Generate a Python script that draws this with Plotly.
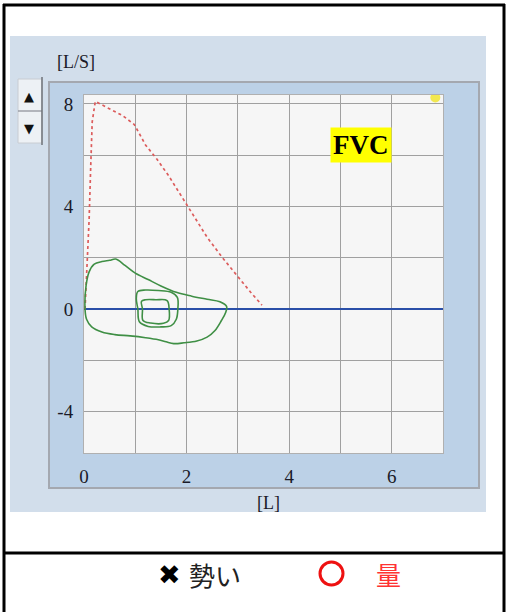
import plotly.graph_objects as go

# ---- data (volume [L], flow [L/S]) ----
fvc_vol = [0.02, 0.06, 0.10, 0.13, 0.16, 0.22, 0.45, 0.75, 0.98, 1.20, 1.42, 1.65, 1.90, 2.15, 2.40, 2.70, 3.00, 3.25, 3.47]
fvc_flow = [0.0, 1.5, 3.5, 5.5, 7.3, 8.1, 7.85, 7.55, 7.2, 6.4, 5.85, 5.2, 4.4, 3.6, 2.8, 2.0, 1.25, 0.65, 0.15]

big_vol = [0.02, 0.04, 0.10, 0.20, 0.35, 0.50, 0.62, 0.80, 1.00, 1.25, 1.50, 1.80, 2.10, 2.40, 2.65, 2.78, 2.76, 2.68,
           2.55, 2.40, 2.20, 1.95, 1.75, 1.60, 1.45, 1.20, 0.90, 0.60, 0.35, 0.15, 0.05, 0.02]
big_flow = [0.0, 0.9, 1.45, 1.75, 1.85, 1.9, 1.95, 1.7, 1.4, 1.15, 0.9, 0.65, 0.5, 0.38, 0.28, 0.1, -0.15, -0.45,
            -0.85, -1.1, -1.25, -1.32, -1.35, -1.28, -1.2, -1.12, -1.05, -1.0, -0.9, -0.7, -0.4, 0.0]

in1_vol = [1.05, 1.02, 1.05, 1.20, 1.45, 1.70, 1.82, 1.83, 1.80, 1.70, 1.50, 1.25, 1.08, 1.05]
in1_flow = [0.0, 0.4, 0.68, 0.74, 0.72, 0.65, 0.45, 0.0, -0.4, -0.65, -0.7, -0.68, -0.5, 0.0]

in2_vol = [1.14, 1.12, 1.20, 1.40, 1.62, 1.66, 1.65, 1.55, 1.30, 1.15, 1.14]
in2_flow = [0.0, 0.3, 0.36, 0.36, 0.33, 0.0, -0.45, -0.56, -0.55, -0.45, 0.0]

marker_vol = [6.85]
marker_flow = [8.25]

x_ticks = [0, 1, 2, 3, 4, 5, 6]
x_ticktext = ["0", "", "2", "", "4", "", "6"]
y_ticks = [-4, -2, 0, 2, 4, 6, 8]
y_ticktext = ["-4", "", "0", "", "4", "", "8"]

# ---- layout geometry (pixels) ----
W_PX, H_PX = 509, 612
L, T, PW, PH = 84, 95, 359, 358


def X(p):
    return (p - L) / PW


def Y(p):
    return (T + PH - p) / PH


fig = go.Figure()
green = "#3f8f45"
fig.add_trace(go.Scatter(x=fvc_vol, y=fvc_flow, mode="lines",
                         line=dict(color="#dc5c5c", width=1.7, dash="3px,3px"), hoverinfo="skip"))
for xs, ys in [(big_vol, big_flow), (in1_vol, in1_flow), (in2_vol, in2_flow)]:
    fig.add_trace(go.Scatter(x=xs, y=ys, mode="lines", line=dict(color=green, width=1.6, shape="spline"),
                             hoverinfo="skip"))
fig.add_trace(go.Scatter(x=marker_vol, y=marker_flow, mode="markers",
                         marker=dict(color="#f2e850", size=10, line=dict(width=0)), hoverinfo="skip"))

shapes = []
# photo background
shapes.append(dict(type="rect", xref="paper", yref="paper", x0=X(10), x1=X(486), y0=Y(512), y1=Y(36),
                   fillcolor="#d2deeb", line=dict(width=0), layer="below"))
# inner frame
shapes.append(dict(type="rect", xref="paper", yref="paper", x0=X(49), x1=X(479), y0=Y(488), y1=Y(82),
                   fillcolor="#bcd1e7", line=dict(color="#a4a8b0", width=2), layer="below"))
# plot area bg
shapes.append(dict(type="rect", xref="paper", yref="paper", x0=0, x1=1, y0=0, y1=1,
                   fillcolor="#f6f6f6", line=dict(width=0), layer="below"))
# buttons
shapes.append(dict(type="rect", xref="paper", yref="paper", x0=X(18), x1=X(42), y0=Y(143), y1=Y(79),
                   fillcolor="#edf1f5", line=dict(color="#c8ccd2", width=1), layer="below"))
shapes.append(dict(type="line", xref="paper", yref="paper", x0=X(18), x1=X(42), y0=Y(111), y1=Y(111),
                   line=dict(color="#8a8e96", width=1.2)))
shapes.append(dict(type="line", xref="paper", yref="paper", x0=X(42), x1=X(42), y0=Y(145), y1=Y(77),
                   line=dict(color="#6e7278", width=1.5)))
# table borders
shapes.append(dict(type="line", xref="paper", yref="paper", x0=X(4), x1=X(4), y0=Y(620), y1=Y(4),
                   line=dict(color="black", width=3)))
shapes.append(dict(type="line", xref="paper", yref="paper", x0=X(504), x1=X(504), y0=Y(620), y1=Y(4),
                   line=dict(color="black", width=3)))
shapes.append(dict(type="line", xref="paper", yref="paper", x0=X(3), x1=X(505), y0=Y(5), y1=Y(5),
                   line=dict(color="black", width=3)))
shapes.append(dict(type="line", xref="paper", yref="paper", x0=X(3), x1=X(505), y0=Y(553), y1=Y(553),
                   line=dict(color="black", width=3)))
# red circle
shapes.append(dict(type="circle", xref="paper", yref="paper", x0=X(320), x1=X(343), y0=Y(585), y1=Y(562),
                   line=dict(color="#ee1111", width=3)))

serif = "Liberation Serif"
ann = []


def txt(x, y, s, size, color="#1a1a28", family=serif, **kw):
    ann.append(dict(x=X(x), y=Y(y), xref="paper", yref="paper", text=s, showarrow=False,
                    font=dict(family=family, size=size, color=color), xanchor="center", yanchor="middle", **kw))


txt(76, 62, "[L/S]", 18)
txt(268, 503, "[L]", 18)
txt(29, 96, "▲", 13, color="#111", family="DejaVu Sans")
txt(29, 128, "▼", 13, color="#111", family="DejaVu Sans")
txt(361, 145, "<b>FVC</b>", 27, color="#000", bgcolor="#ffff00", borderpad=2)
txt(169, 574, "✖", 27, color="#000", family="DejaVu Sans")
txt(215, 574, "勢い", 26, color="#222", family="Noto Sans CJK JP")
txt(388, 574, "量", 25, color="#ff3333", family="Noto Sans CJK JP")

fig.update_layout(
    width=W_PX, height=H_PX,
    margin=dict(l=L, r=W_PX - L - PW, t=T, b=H_PX - T - PH),
    paper_bgcolor="white", plot_bgcolor="rgba(0,0,0,0)",
    showlegend=False, shapes=shapes, annotations=ann,
    xaxis=dict(range=[0, 7], tickvals=x_ticks, ticktext=x_ticktext, showgrid=True, gridcolor="#a0a0a0",
               gridwidth=1, zeroline=False, showline=True, linecolor="#b0b0b0", mirror=True, ticks="",
               ticklabelstandoff=6, tickfont=dict(family=serif, size=19, color="#1a1a28")),
    yaxis=dict(range=[-5.62, 8.35], tickvals=y_ticks, ticktext=y_ticktext, showgrid=True, gridcolor="#a0a0a0",
               gridwidth=1, zeroline=True, zerolinecolor="#2a4fa8", zerolinewidth=2, showline=True,
               linecolor="#b0b0b0", mirror=True, ticks="", ticklabelstandoff=6,
               tickfont=dict(family=serif, size=19, color="#1a1a28")),
)
fig.write_html("out.html", config={"displayModeBar": False},
               post_script="document.body.style.margin='0px';document.body.style.overflow='hidden';")
